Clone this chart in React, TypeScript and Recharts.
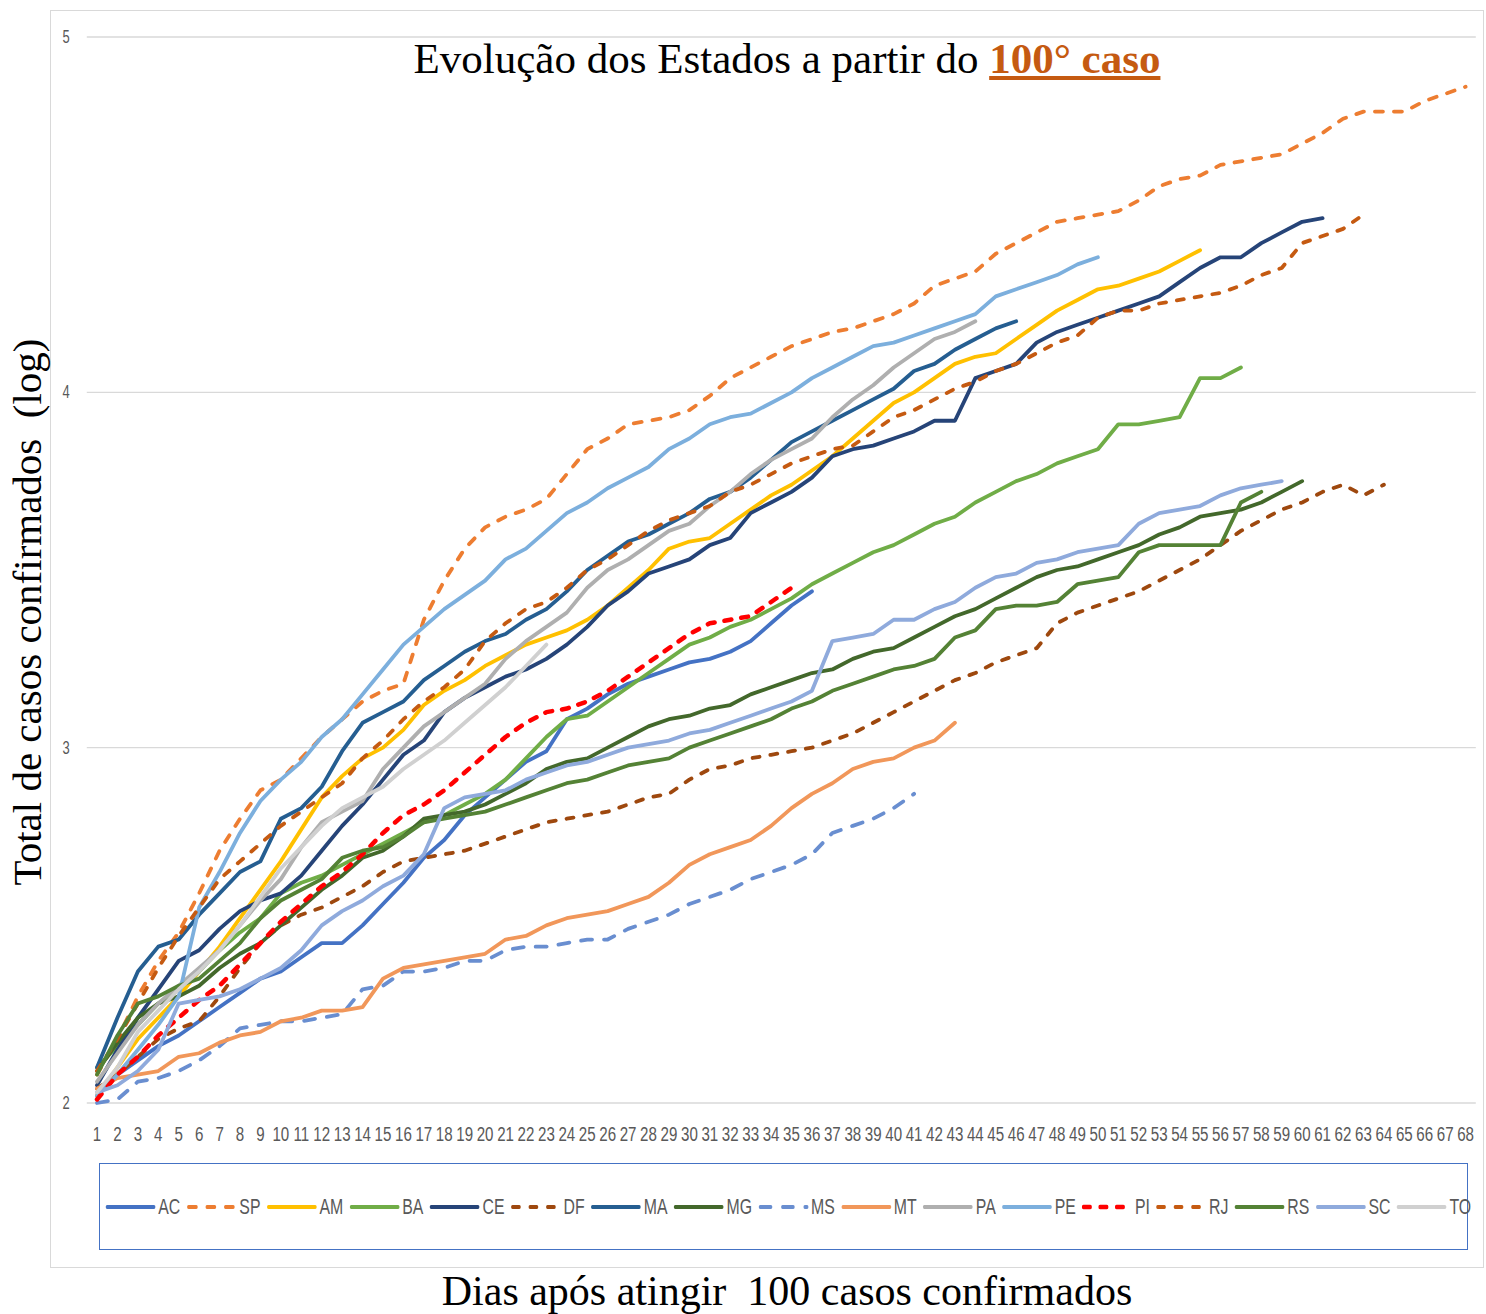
import React from 'react';
import { LineChart, Line, XAxis, YAxis, CartesianGrid } from 'recharts';

const days = [
  1, 2, 3, 4, 5, 6, 7, 8, 9, 10, 11, 12, 13, 14, 15, 16, 17, 18, 19, 20,
  21, 22, 23, 24, 25, 26, 27, 28, 29, 30, 31, 32, 33, 34, 35, 36, 37, 38, 39, 40,
  41, 42, 43, 44, 45, 46, 47, 48, 49, 50, 51, 52, 53, 54, 55, 56, 57, 58, 59, 60,
  61, 62, 63, 64, 65, 66, 67, 68,
];
const yTicks = [2, 3, 4, 5];

// log10 of confirmed cases, one value per day since the 100th case
const AC = [2.02, 2.08, 2.12, 2.16, 2.19, 2.23, 2.27, 2.31, 2.35, 2.37, 2.41, 2.45, 2.45, 2.50, 2.56, 2.62, 2.69, 2.74, 2.81, 2.86, 2.91, 2.96, 2.99, 3.08, 3.11, 3.15, 3.18, 3.20, 3.22, 3.24, 3.25, 3.27, 3.30, 3.35, 3.40, 3.44];
const SP = [2.08, 2.18, 2.30, 2.40, 2.48, 2.59, 2.71, 2.80, 2.88, 2.91, 2.97, 3.03, 3.08, 3.13, 3.16, 3.18, 3.36, 3.47, 3.56, 3.62, 3.65, 3.67, 3.70, 3.77, 3.84, 3.87, 3.91, 3.92, 3.93, 3.95, 3.99, 4.04, 4.07, 4.10, 4.13, 4.15, 4.17, 4.18, 4.20, 4.22, 4.25, 4.30, 4.32, 4.34, 4.39, 4.42, 4.45, 4.48, 4.49, 4.50, 4.51, 4.54, 4.58, 4.60, 4.61, 4.64, 4.65, 4.66, 4.67, 4.70, 4.73, 4.77, 4.79, 4.79, 4.79, 4.82, 4.84, 4.86];
const AM = [2.02, 2.10, 2.18, 2.24, 2.30, 2.37, 2.44, 2.52, 2.60, 2.68, 2.77, 2.86, 2.92, 2.97, 3.00, 3.05, 3.12, 3.16, 3.19, 3.23, 3.26, 3.29, 3.31, 3.33, 3.36, 3.40, 3.45, 3.50, 3.56, 3.58, 3.59, 3.63, 3.67, 3.71, 3.74, 3.78, 3.82, 3.87, 3.92, 3.97, 4.00, 4.04, 4.08, 4.10, 4.11, 4.15, 4.19, 4.23, 4.26, 4.29, 4.30, 4.32, 4.34, 4.37, 4.40];
const BA = [2.10, 2.16, 2.22, 2.28, 2.32, 2.37, 2.43, 2.48, 2.52, 2.59, 2.62, 2.64, 2.67, 2.70, 2.73, 2.76, 2.79, 2.81, 2.84, 2.87, 2.91, 2.97, 3.03, 3.08, 3.09, 3.13, 3.17, 3.21, 3.25, 3.29, 3.31, 3.34, 3.36, 3.39, 3.42, 3.46, 3.49, 3.52, 3.55, 3.57, 3.60, 3.63, 3.65, 3.69, 3.72, 3.75, 3.77, 3.80, 3.82, 3.84, 3.91, 3.91, 3.92, 3.93, 4.04, 4.04, 4.07];
const CE = [2.05, 2.15, 2.24, 2.32, 2.40, 2.43, 2.49, 2.54, 2.57, 2.59, 2.64, 2.71, 2.78, 2.84, 2.91, 2.98, 3.02, 3.10, 3.14, 3.17, 3.20, 3.22, 3.25, 3.29, 3.34, 3.40, 3.44, 3.49, 3.51, 3.53, 3.57, 3.59, 3.66, 3.69, 3.72, 3.76, 3.82, 3.84, 3.85, 3.87, 3.89, 3.92, 3.92, 4.04, 4.06, 4.08, 4.14, 4.17, 4.19, 4.21, 4.23, 4.25, 4.27, 4.31, 4.35, 4.38, 4.38, 4.42, 4.45, 4.48, 4.49];
const DF = [2.04, 2.08, 2.13, 2.18, 2.21, 2.23, 2.30, 2.38, 2.45, 2.50, 2.53, 2.55, 2.58, 2.61, 2.65, 2.68, 2.69, 2.70, 2.71, 2.73, 2.75, 2.77, 2.79, 2.80, 2.81, 2.82, 2.84, 2.86, 2.87, 2.91, 2.94, 2.95, 2.97, 2.98, 2.99, 3.00, 3.02, 3.04, 3.07, 3.10, 3.13, 3.16, 3.19, 3.21, 3.24, 3.26, 3.28, 3.35, 3.38, 3.40, 3.42, 3.44, 3.47, 3.50, 3.53, 3.57, 3.61, 3.64, 3.67, 3.69, 3.72, 3.74, 3.71, 3.74];
const MA = [2.10, 2.24, 2.37, 2.44, 2.46, 2.53, 2.59, 2.65, 2.68, 2.80, 2.83, 2.89, 2.99, 3.07, 3.10, 3.13, 3.19, 3.23, 3.27, 3.30, 3.32, 3.36, 3.39, 3.44, 3.50, 3.54, 3.58, 3.60, 3.63, 3.66, 3.70, 3.72, 3.76, 3.81, 3.86, 3.89, 3.92, 3.95, 3.98, 4.01, 4.06, 4.08, 4.12, 4.15, 4.18, 4.20];
const MG = [2.09, 2.17, 2.24, 2.28, 2.30, 2.33, 2.38, 2.42, 2.45, 2.50, 2.55, 2.60, 2.64, 2.69, 2.71, 2.75, 2.80, 2.81, 2.82, 2.84, 2.87, 2.90, 2.94, 2.96, 2.97, 3.00, 3.03, 3.06, 3.08, 3.09, 3.11, 3.12, 3.15, 3.17, 3.19, 3.21, 3.22, 3.25, 3.27, 3.28, 3.31, 3.34, 3.37, 3.39, 3.42, 3.45, 3.48, 3.50, 3.51, 3.53, 3.55, 3.57, 3.60, 3.62, 3.65, 3.66, 3.67, 3.69, 3.72, 3.75];
const MS = [2.00, 2.01, 2.06, 2.07, 2.09, 2.12, 2.16, 2.21, 2.22, 2.23, 2.23, 2.24, 2.25, 2.32, 2.33, 2.37, 2.37, 2.38, 2.40, 2.40, 2.43, 2.44, 2.44, 2.45, 2.46, 2.46, 2.49, 2.51, 2.53, 2.56, 2.58, 2.60, 2.63, 2.65, 2.67, 2.70, 2.76, 2.78, 2.80, 2.83, 2.87];
const MT = [2.04, 2.07, 2.08, 2.09, 2.13, 2.14, 2.17, 2.19, 2.20, 2.23, 2.24, 2.26, 2.26, 2.27, 2.35, 2.38, 2.39, 2.40, 2.41, 2.42, 2.46, 2.47, 2.50, 2.52, 2.53, 2.54, 2.56, 2.58, 2.62, 2.67, 2.70, 2.72, 2.74, 2.78, 2.83, 2.87, 2.90, 2.94, 2.96, 2.97, 3.00, 3.02, 3.07];
const PA = [2.06, 2.14, 2.22, 2.28, 2.33, 2.38, 2.43, 2.50, 2.57, 2.63, 2.72, 2.79, 2.82, 2.85, 2.94, 3.00, 3.06, 3.10, 3.14, 3.18, 3.25, 3.30, 3.34, 3.38, 3.45, 3.50, 3.53, 3.57, 3.61, 3.63, 3.68, 3.72, 3.77, 3.81, 3.84, 3.87, 3.93, 3.98, 4.02, 4.07, 4.11, 4.15, 4.17, 4.20];
const PE = [2.02, 2.08, 2.15, 2.22, 2.30, 2.55, 2.65, 2.76, 2.85, 2.91, 2.96, 3.03, 3.08, 3.15, 3.22, 3.29, 3.34, 3.39, 3.43, 3.47, 3.53, 3.56, 3.61, 3.66, 3.69, 3.73, 3.76, 3.79, 3.84, 3.87, 3.91, 3.93, 3.94, 3.97, 4.00, 4.04, 4.07, 4.10, 4.13, 4.14, 4.16, 4.18, 4.20, 4.22, 4.27, 4.29, 4.31, 4.33, 4.36, 4.38];
const PI = [2.01, 2.08, 2.13, 2.19, 2.24, 2.29, 2.33, 2.39, 2.45, 2.51, 2.56, 2.61, 2.65, 2.70, 2.76, 2.81, 2.84, 2.88, 2.93, 2.98, 3.03, 3.07, 3.10, 3.11, 3.13, 3.16, 3.20, 3.24, 3.28, 3.32, 3.35, 3.36, 3.37, 3.41, 3.45];
const RJ = [2.09, 2.18, 2.28, 2.38, 2.47, 2.55, 2.63, 2.68, 2.73, 2.78, 2.82, 2.86, 2.90, 2.97, 3.02, 3.08, 3.13, 3.17, 3.22, 3.30, 3.35, 3.39, 3.41, 3.45, 3.50, 3.53, 3.57, 3.61, 3.64, 3.66, 3.68, 3.72, 3.74, 3.77, 3.80, 3.82, 3.84, 3.85, 3.89, 3.93, 3.95, 3.98, 4.01, 4.03, 4.06, 4.08, 4.11, 4.14, 4.16, 4.21, 4.23, 4.23, 4.25, 4.26, 4.27, 4.28, 4.30, 4.33, 4.35, 4.42, 4.44, 4.46, 4.50];
const RS = [2.08, 2.19, 2.28, 2.30, 2.33, 2.35, 2.40, 2.45, 2.52, 2.57, 2.60, 2.63, 2.69, 2.71, 2.72, 2.75, 2.79, 2.80, 2.81, 2.82, 2.84, 2.86, 2.88, 2.90, 2.91, 2.93, 2.95, 2.96, 2.97, 3.00, 3.02, 3.04, 3.06, 3.08, 3.11, 3.13, 3.16, 3.18, 3.20, 3.22, 3.23, 3.25, 3.31, 3.33, 3.39, 3.40, 3.40, 3.41, 3.46, 3.47, 3.48, 3.55, 3.57, 3.57, 3.57, 3.57, 3.69, 3.72];
const SC = [2.03, 2.05, 2.09, 2.15, 2.28, 2.29, 2.30, 2.32, 2.35, 2.38, 2.43, 2.50, 2.54, 2.57, 2.61, 2.64, 2.70, 2.83, 2.86, 2.87, 2.88, 2.91, 2.93, 2.95, 2.96, 2.98, 3.00, 3.01, 3.02, 3.04, 3.05, 3.07, 3.09, 3.11, 3.13, 3.16, 3.30, 3.31, 3.32, 3.36, 3.36, 3.39, 3.41, 3.45, 3.48, 3.49, 3.52, 3.53, 3.55, 3.56, 3.57, 3.63, 3.66, 3.67, 3.68, 3.71, 3.73, 3.74, 3.75];
const TO = [2.03, 2.10, 2.20, 2.26, 2.32, 2.37, 2.43, 2.50, 2.58, 2.66, 2.72, 2.78, 2.83, 2.86, 2.89, 2.94, 2.98, 3.02, 3.07, 3.12, 3.17, 3.23, 3.29];

const series = [
  { key: 'AC', values: AC, color: '#4472C4' },
  { key: 'SP', values: SP, color: '#ED7D31', dash: '8 11' },
  { key: 'AM', values: AM, color: '#FFC000' },
  { key: 'BA', values: BA, color: '#70AD47' },
  { key: 'CE', values: CE, color: '#264478' },
  { key: 'DF', values: DF, color: '#9E480E', dash: '7 11' },
  { key: 'MA', values: MA, color: '#255E91' },
  { key: 'MG', values: MG, color: '#43682B' },
  { key: 'MS', values: MS, color: '#698ED0', dash: '11 12' },
  { key: 'MT', values: MT, color: '#F1975A' },
  { key: 'PA', values: PA, color: '#AFAFAF' },
  { key: 'PE', values: PE, color: '#7CAFDD' },
  { key: 'PI', values: PI, color: '#FF0000', dash: '7 10', width: 4.5 },
  { key: 'RJ', values: RJ, color: '#C55A11', dash: '7 11' },
  { key: 'RS', values: RS, color: '#548235' },
  { key: 'SC', values: SC, color: '#8FAADC' },
  { key: 'TO', values: TO, color: '#D0D0D0' },
];

const rows = days.map((day, i) => {
  const row: Record<string, number> = { day };
  series.forEach((s) => {
    if (i < s.values.length) row[s.key] = s.values[i];
  });
  return row;
});

const serif = '"Liberation Serif", "Times New Roman", serif';
const sans = '"Liberation Sans", Arial, sans-serif';

const XTick = ({ x, y, payload }: any) => (
  <text
    transform={`translate(${x},${y + 30}) scale(0.72,1)`}
    textAnchor="middle"
    fontSize={21}
    fontFamily={sans}
    fill="#595959"
  >
    {payload.value}
  </text>
);

const YTick = ({ x, y, payload }: any) => (
  <text
    transform={`translate(${x - 9},${y + 6}) scale(0.72,1)`}
    textAnchor="end"
    fontSize={18}
    fontFamily={sans}
    fill="#595959"
  >
    {payload.value}
  </text>
);

function LegendRow() {
  // drawn wide, then squeezed horizontally like the original narrow font
  return (
    <div
      style={{
        position: 'absolute',
        left: 99,
        top: 1163,
        width: 1369,
        height: 87,
        border: '1.5px solid #4472C4',
        boxSizing: 'border-box',
        background: '#fff',
      }}
    >
      <div
        style={{
          position: 'absolute',
          left: 5,
          top: 0,
          height: '100%',
          display: 'flex',
          alignItems: 'center',
          transform: 'scaleX(0.72)',
          transformOrigin: 'left center',
          whiteSpace: 'nowrap',
        }}
      >
        {series.map((s) => (
          <div key={s.key} style={{ display: 'flex', alignItems: 'center', marginRight: 8 }}>
            <svg width={71} height={10}>
              <line
                x1={3}
                y1={5}
                x2={68}
                y2={5}
                stroke={s.color}
                strokeWidth={s.width ?? 4}
                strokeLinecap="round"
                strokeDasharray={s.dash ? s.dash.split(' ').map((v) => Number(v) * 1.35).join(' ') : undefined}
              />
            </svg>
            <span style={{ fontFamily: sans, fontSize: 22, color: '#595959', marginLeft: 3 }}>{s.key}</span>
          </div>
        ))}
      </div>
    </div>
  );
}

export default function App() {
  return (
    <div style={{ position: 'absolute', left: 0, top: 0, width: 1486, height: 1314, background: '#fff', overflow: 'hidden' }}>
      <div
        style={{
          position: 'absolute',
          left: 50,
          top: 10,
          width: 1434,
          height: 1258,
          border: '1.5px solid #D9D9D9',
          boxSizing: 'border-box',
        }}
      />
      <div style={{ position: 'absolute', left: 0, top: 0 }}>
        <LineChart width={1486} height={1314} data={rows} margin={{ top: 37, right: 10.2, bottom: 171, left: 46.8 }}>
          <CartesianGrid vertical={false} stroke="#D9D9D9" strokeWidth={1.3} />
          <XAxis
            dataKey="day"
            type="number"
            domain={[0.5, 68.5]}
            ticks={days}
            interval={0}
            axisLine={false}
            tickLine={false}
            height={40}
            tick={<XTick />}
          />
          <YAxis
            type="number"
            domain={[2, 5]}
            ticks={yTicks}
            axisLine={false}
            tickLine={false}
            width={40}
            tick={<YTick />}
          />
          {series.map((s) => (
            <Line
              key={s.key}
              type="linear"
              dataKey={s.key}
              stroke={s.color}
              strokeWidth={s.width ?? 3.8}
              strokeDasharray={s.dash}
              strokeLinecap="round"
              strokeLinejoin="round"
              dot={false}
              activeDot={false}
              isAnimationActive={false}
            />
          ))}
        </LineChart>
      </div>
      <div
        style={{
          position: 'absolute',
          left: 787,
          top: 37,
          transform: 'translateX(-50%)',
          fontFamily: serif,
          fontSize: 43,
          lineHeight: '43px',
          whiteSpace: 'nowrap',
          color: '#000',
        }}
      >
        Evolução dos Estados a partir do{' '}
        <span style={{ fontWeight: 'bold', color: '#C55A11', textDecoration: 'underline' }}>100° caso</span>
      </div>
      <div
        style={{
          position: 'absolute',
          left: 27,
          top: 612,
          transform: 'translate(-50%, -50%) rotate(-90deg)',
          fontFamily: serif,
          fontSize: 41,
          lineHeight: '41px',
          whiteSpace: 'pre',
          color: '#000',
        }}
      >
        Total de casos confirmados  (log)
      </div>
      <div
        style={{
          position: 'absolute',
          left: 787,
          top: 1270,
          transform: 'translateX(-50%)',
          fontFamily: serif,
          fontSize: 42,
          lineHeight: '42px',
          whiteSpace: 'pre',
          color: '#000',
        }}
      >
        Dias após atingir  100 casos confirmados
      </div>
      <LegendRow />
    </div>
  );
}
